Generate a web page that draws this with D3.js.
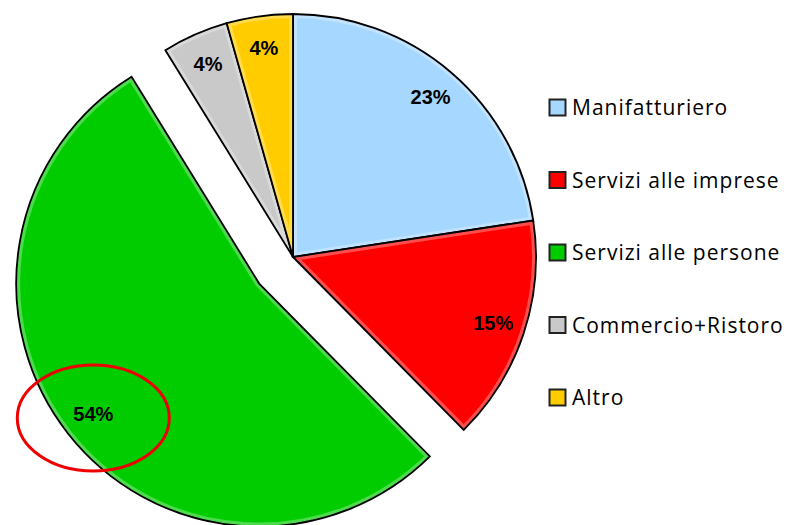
<!DOCTYPE html>
<html>
<head>
<meta charset="utf-8">
<script src="https://cdn.jsdelivr.net/npm/d3@7"></script>
<style>
  body { margin: 0; background: #ffffff; }
  svg { display: block; }
</style>
</head>
<body>
<script>
var categories = ["Manifatturiero", "Servizi alle imprese", "Servizi alle persone", "Commercio+Ristoro", "Altro"];
var shares = [22.6, 15.0, 53.6, 4.4, 4.4];
var colors = ["#A6D7FF", "#FF0000", "#00CC00", "#C9C9C9", "#FFCC00"];
var explodedCategory = "Servizi alle persone";

var width = 790;
var height = 525;
var cx = 293, cy = 257;
var radius = 243;
var explodeBy = 43;

var svg = d3.select("body")
  .append("svg")
  .attr("width", width)
  .attr("height", height);

var data = categories.map(function (c, i) {
  return { name: c, value: shares[i], color: colors[i] };
});

var pie = d3.pie()
  .sort(null)
  .value(function (d) { return d.value; });
var arcs = pie(data);

var arc = d3.arc().innerRadius(0).outerRadius(radius);
var labelArc = d3.arc().innerRadius(211).outerRadius(211);

var defs = svg.append("defs");
var pieg = svg.append("g")
  .attr("transform", "translate(" + cx + " " + cy + ")");

function offset(a) {
  if (a.data.name != explodedCategory) return [0, 0];
  var mid = (a.startAngle + a.endAngle) / 2;
  return [Math.sin(mid) * explodeBy, -Math.cos(mid) * explodeBy];
}

var slices = pieg.selectAll("g.slice")
  .data(arcs)
  .enter()
  .append("g")
  .attr("class", "slice")
  .attr("transform", function (d) {
    var o = offset(d);
    return "translate(" + o[0] + " " + o[1] + ")";
  });

slices.each(function (d, i) {
  var g = d3.select(this);
  defs.append("clipPath")
    .attr("id", "clip" + i)
    .append("path")
    .attr("d", arc(d));
  g.append("path")
    .attr("d", arc(d))
    .attr("fill", d.data.color);
  // soft bevel glow along the edges
  g.append("path")
    .attr("d", arc(d))
    .attr("fill", "none")
    .attr("stroke", "#ffffff")
    .attr("stroke-opacity", 0.3)
    .attr("stroke-width", 8)
    .attr("clip-path", "url(#clip" + i + ")");
  g.append("path")
    .attr("d", arc(d))
    .attr("fill", "none")
    .attr("stroke", "#000000")
    .attr("stroke-width", 1.8)
    .attr("stroke-linejoin", "miter");
  var c = labelArc.centroid(d);
  g.append("text")
    .attr("x", c[0])
    .attr("y", c[1])
    .attr("text-anchor", "middle")
    .attr("dominant-baseline", "central")
    .attr("font-family", "Liberation Sans, Arial, sans-serif")
    .attr("font-weight", "bold")
    .attr("font-size", 20)
    .attr("fill", "#000000")
    .text(Math.round(d.data.value) + "%");
});

// red ellipse highlighting the largest share
var big = arcs.filter(function (a) { return a.data.name == explodedCategory; })[0];
var bo = offset(big);
var bc = labelArc.centroid(big);
pieg.append("ellipse")
  .attr("cx", bc[0] + bo[0])
  .attr("cy", bc[1] + bo[1] + 4)
  .attr("rx", 76)
  .attr("ry", 53)
  .attr("fill", "none")
  .attr("stroke", "#EE0000")
  .attr("stroke-width", 3);

// legend
var legendY = d3.scalePoint()
  .domain(categories)
  .range([107.5, 397.5]);

var legend = svg.append("g");
var items = legend.selectAll("g")
  .data(data)
  .enter()
  .append("g")
  .attr("transform", function (d) {
    return "translate(549 " + legendY(d.name) + ")";
  });
items.append("rect")
  .attr("x", 0.5)
  .attr("y", -8)
  .attr("width", 16)
  .attr("height", 16)
  .attr("fill", function (d) { return d.color; })
  .attr("stroke", "#222222")
  .attr("stroke-width", 2);
items.append("text")
  .attr("x", 23)
  .attr("y", 7.5)
  .attr("font-family", "Open Sans, sans-serif")
  .attr("font-size", 21)
  .attr("letter-spacing", 1)
  .attr("fill", "#000000")
  .text(function (d) { return d.name; });
</script>
</body>
</html>
